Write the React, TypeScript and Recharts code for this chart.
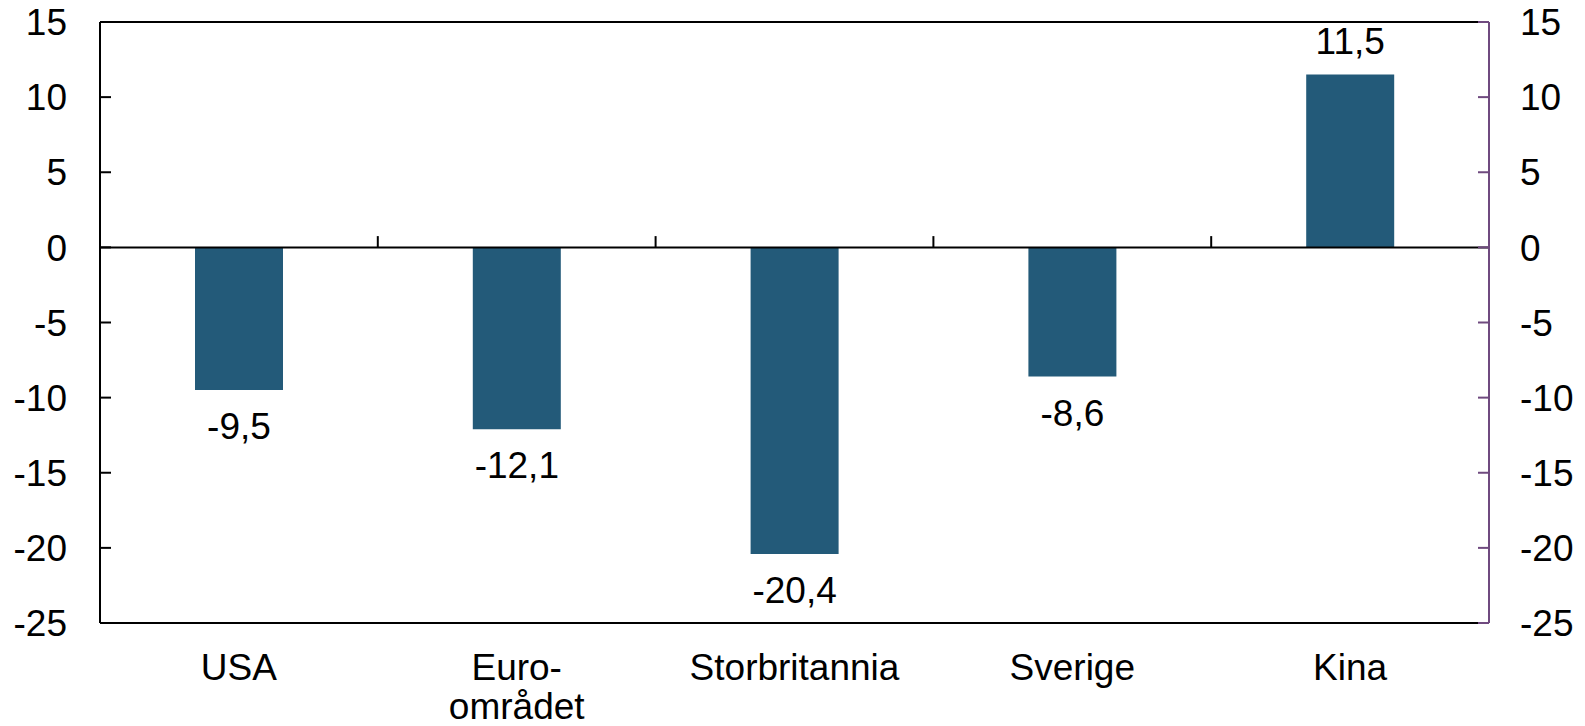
import React from 'react';
import { ComposedChart, Bar, XAxis, YAxis, ReferenceLine, LabelList } from 'recharts';

const categories = ['USA', 'Euro-området', 'Storbritannia', 'Sverige', 'Kina'];
const values = [-9.5, -12.1, -20.4, -8.6, 11.5];
const yTicks = [-25, -20, -15, -10, -5, 0, 5, 10, 15];
// small tick marks on the zero line at the start of these categories
const separators = ['Euro-området', 'Storbritannia', 'Sverige', 'Kina'];

const data = categories.map((c, i) => ({ name: c, value: values[i] }));

const FONT = '"Liberation Sans", Arial, sans-serif';
const FS = 37;
const BAR = '#235a79';
const PURPLE = '#6f4a7f';

const fmt = (v: number) => v.toFixed(1).replace('.', ',');

const LeftTick = (props: any) => {
  const { x, y, payload } = props;
  return (
    <g>
      <line x1={x + 33} x2={x + 44} y1={y} y2={y} stroke="#000" strokeWidth={2} />
      <text x={x} y={y} dy="0.355em" textAnchor="end" fontSize={FS} fontFamily={FONT} fill="#000">
        {payload.value}
      </text>
    </g>
  );
};

const RightTick = (props: any) => {
  const { x, y, payload } = props;
  return (
    <g>
      <line x1={x - 31} x2={x - 42} y1={y} y2={y} stroke={PURPLE} strokeWidth={2} />
      <text x={x} y={y} dy="0.355em" textAnchor="start" fontSize={FS} fontFamily={FONT} fill="#000">
        {payload.value}
      </text>
    </g>
  );
};

const CategoryTick = (props: any) => {
  const { x, y, payload } = props;
  const name: string = payload.value;
  const lines = name.includes('-') ? [name.slice(0, name.indexOf('-') + 1), name.slice(name.indexOf('-') + 1)] : [name];
  return (
    <text x={x} y={y} textAnchor="middle" fontSize={FS} fontFamily={FONT} fill="#000">
      {lines.map((l, i) => (
        <tspan key={i} x={x} dy={i === 0 ? 57 : 39}>
          {l}
        </tspan>
      ))}
    </text>
  );
};

const ValueLabel = (props: any) => {
  const { x, y, width, height, value } = props;
  const top = Math.min(y, y + height);
  const bottom = Math.max(y, y + height);
  const cx = x + width / 2;
  const ty = value < 0 ? bottom + 49 : top - 21;
  return (
    <text x={cx} y={ty} textAnchor="middle" fontSize={FS} fontFamily={FONT} fill="#000">
      {fmt(value)}
    </text>
  );
};

export default function App() {
  return (
    <div style={{ position: 'absolute', left: 0, top: 0, background: '#fff' }}>
      <ComposedChart
        width={1585}
        height={726}
        data={data}
        margin={{ top: 22, right: 0, left: 0, bottom: 0 }}
      >
        <XAxis
          xAxisId="cat"
          dataKey="name"
          type="category"
          height={103}
          axisLine={{ stroke: '#000', strokeWidth: 2 }}
          tickLine={false}
          tickSize={0}
          tickMargin={0}
          interval={0}
          tick={<CategoryTick />}
        />
        <YAxis
          yAxisId="left"
          width={100}
          domain={[-25, 15]}
          ticks={yTicks}
          interval={0}
          allowDataOverflow
          axisLine={{ stroke: '#000', strokeWidth: 2 }}
          tickLine={false}
          tickSize={0}
          tickMargin={33}
          tick={<LeftTick />}
        />
        <YAxis
          yAxisId="right"
          orientation="right"
          width={96}
          domain={[-25, 15]}
          ticks={yTicks}
          interval={0}
          allowDataOverflow
          axisLine={{ stroke: PURPLE, strokeWidth: 2 }}
          tickLine={false}
          tickSize={0}
          tickMargin={31}
          tick={<RightTick />}
        />
        <ReferenceLine xAxisId="cat" yAxisId="left" y={15} stroke="#000" strokeWidth={2} />
        <Bar xAxisId="cat" yAxisId="left" dataKey="value" fill={BAR} barSize={88} isAnimationActive={false}>
          <LabelList dataKey="value" content={<ValueLabel />} />
        </Bar>
        <ReferenceLine xAxisId="cat" yAxisId="left" y={0} stroke="#000" strokeWidth={2} />
        {separators.map((s) => (
          <ReferenceLine
            key={s}
            xAxisId="cat"
            yAxisId="left"
            position="start"
            segment={[{ x: s, y: 0 }, { x: s, y: 0.75 }]}
            stroke="#000"
            strokeWidth={2}
          />
        ))}
      </ComposedChart>
    </div>
  );
}
